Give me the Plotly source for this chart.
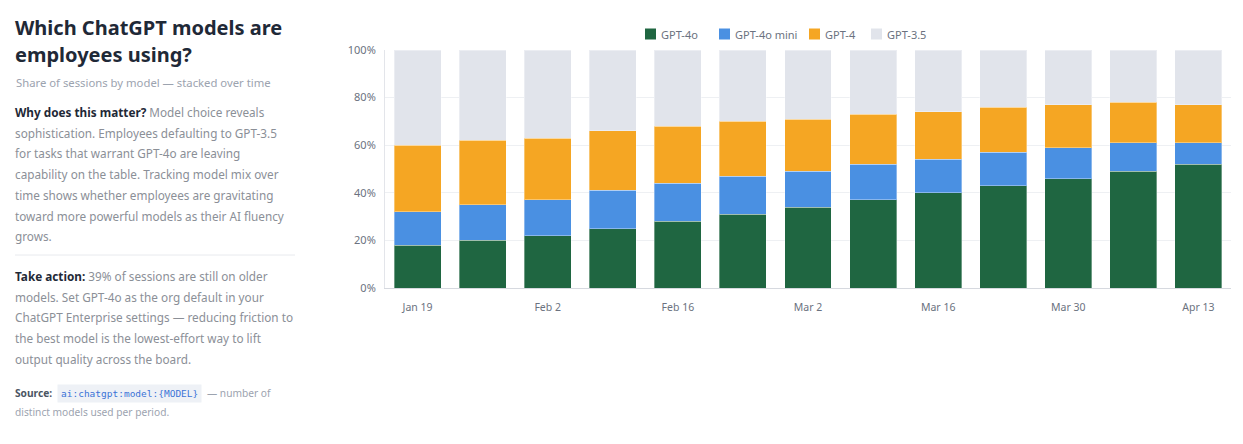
import plotly.graph_objects as go

weeks = ["Jan 19", "Jan 26", "Feb 2", "Feb 9", "Feb 16", "Feb 23", "Mar 2",
         "Mar 9", "Mar 16", "Mar 23", "Mar 30", "Apr 6", "Apr 13"]
gpt4o = [18, 20, 22, 25, 28, 31, 34, 37, 40, 43, 46, 49, 52]
gpt4o_mini = [14, 15, 15, 16, 16, 16, 15, 15, 14, 14, 13, 12, 9]
gpt4 = [28, 27, 26, 25, 24, 23, 22, 21, 20, 19, 18, 17, 16]
gpt35 = [40, 38, 37, 34, 32, 30, 29, 27, 26, 24, 23, 22, 23]
tick_labels = ["Jan 19", "Feb 2", "Feb 16", "Mar 2", "Mar 16", "Mar 30", "Apr 13"]
y_ticks = [0, 20, 40, 60, 80, 100]

series = [
    ("GPT-4o", gpt4o, "#1f6641"),
    ("GPT-4o mini", gpt4o_mini, "#4a90e2"),
    ("GPT-4", gpt4, "#f5a623"),
    ("GPT-3.5", gpt35, "#e1e4eb"),
]

# page body adds an 8px margin; work in reference-pixel coordinates
O = 8
W, H = 1243 - O, 444 - O
PL, PR, PT, PB = 385, 1231, 50, 288          # plot box in reference pixels
L, R, T, B = PL - O, W - (PR - O), PT - O, H - (PB - O)
PW, PH = W - L - R, H - T - B

def px(x):
    return (x - O - L) / PW

def py(y):
    return 1 - (y - O - T) / PH

FONT = "Noto Sans"
fig = go.Figure()
for name, vals, color in series:
    fig.add_trace(go.Bar(
        x=weeks, y=vals, name=name,
        marker=dict(color=color, line=dict(width=1, color="rgba(255,255,255,0.35)")),
    ))

fig.update_layout(
    width=W, height=H, barmode="stack", bargap=0.278, showlegend=False,
    margin=dict(l=L, r=R, t=T, b=B, autoexpand=False),
    paper_bgcolor="white", plot_bgcolor="white",
    font=dict(family=FONT, size=11, color="#6b7280"),
    xaxis=dict(tickmode="array", tickvals=tick_labels, ticktext=tick_labels,
               showline=True, linecolor="#d6d9df", linewidth=1, ticks="",
               tickfont=dict(size=10.5, color="#6b7280"), ticklabelstandoff=9,
               showgrid=False, fixedrange=True),
    yaxis=dict(range=[0, 100], tickmode="array", tickvals=y_ticks,
               ticktext=[f"{v}%" for v in y_ticks],
               showgrid=True, gridcolor="#eef0f3", gridwidth=1,
               showline=True, linecolor="#e3e5ea", linewidth=1, zeroline=False,
               tickfont=dict(size=11, color="#6b7280"), ticklabelstandoff=6,
               fixedrange=True),
)

DARK = "#1f2937"
GRAY = "#8b8f97"
LIGHT = "#9ca3af"

def text(x, y, s, size, color=GRAY, family=FONT, **kw):
    fig.add_annotation(x=px(x), y=py(y), xref="paper", yref="paper", text=s,
                       showarrow=False, xanchor="left", yanchor="middle",
                       font=dict(size=size, color=color, family=family), align="left", **kw)

# manual legend
legend_x = [645, 719, 809, 871]
for (name, vals, color), lx in zip(series, legend_x):
    fig.add_shape(type="rect", xref="paper", yref="paper",
                  x0=px(lx), x1=px(lx + 11), y0=py(28.5), y1=py(39.5),
                  fillcolor=color, line=dict(width=0))
    text(lx + 14, 34, name, 11, "#6b7280")

text(13, 28, "<b>Which ChatGPT models are</b>", 20, DARK)
text(13, 54, "<b>employees using?</b>", 20, DARK)
text(14, 82, "Share of sessions by model — stacked over time", 11.3, LIGHT)

why = [
    f"<b><span style='color:{DARK}'>Why does this matter?</span></b> Model choice reveals",
    "sophistication. Employees defaulting to GPT-3.5",
    "for tasks that warrant GPT-4o are leaving",
    "capability on the table. Tracking model mix over",
    "time shows whether employees are gravitating",
    "toward more powerful models as their AI fluency",
    "grows.",
]
for i, s in enumerate(why):
    text(13, 112 + i * 20.7, s, 11.75)

fig.add_shape(type="line", xref="paper", yref="paper", x0=px(15), x1=px(295),
              y0=py(255), y1=py(255), line=dict(color="#e8eaee", width=1))

act = [
    f"<b><span style='color:{DARK}'>Take action:</span></b> 39% of sessions are still on older",
    "models. Set GPT-4o as the org default in your",
    "ChatGPT Enterprise settings — reducing friction to",
    "the best model is the lowest-effort way to lift",
    "output quality across the board.",
]
for i, s in enumerate(act):
    text(13, 276 + i * 20.7, s, 11.75)

text(13, 393, "<b><span style='color:#4b5563'>Source:</span></b>", 10.2, LIGHT)
text(57, 393, "ai:chatgpt:model:{MODEL}", 9.5, "#3b73d6", family="DejaVu Sans Mono",
     bgcolor="#eef1f6", borderpad=3)
text(205, 393, "— number of", 10.2, LIGHT)
text(13, 412, "distinct models used per period.", 10.2, LIGHT)

fig.write_html("out.html")
